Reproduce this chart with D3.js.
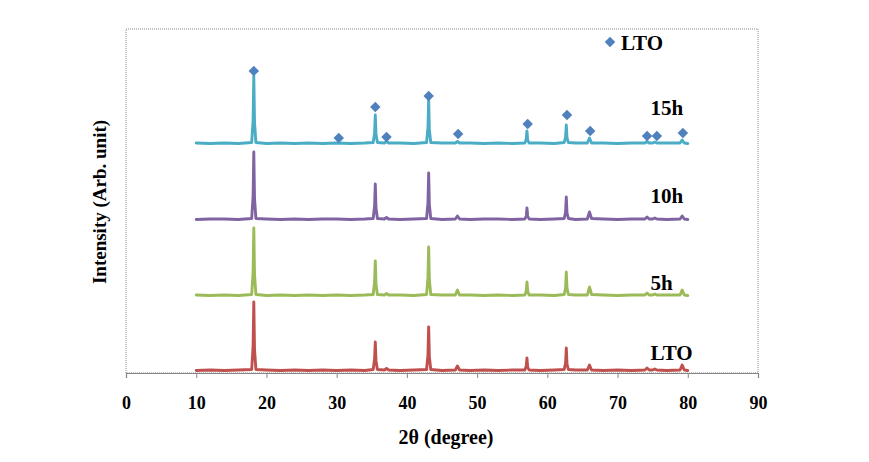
<!DOCTYPE html>
<html>
<head>
<meta charset="utf-8">
<script src="https://cdn.jsdelivr.net/npm/d3@7"></script>
<style>
  html, body { margin: 0; padding: 0; background: #fff; }
  svg { display: block; }
  text { font-family: "Liberation Serif", "Times New Roman", serif; font-weight: bold; fill: #000; }
</style>
</head>
<body>
<svg id="chart" width="869" height="462"></svg>
<script>
// ---------------- DATA ----------------
const xTicks = [0, 10, 20, 30, 40, 50, 60, 70, 80, 90];
const seriesNames = ["LTO", "5h", "10h", "15h"];
const seriesLabels = ["LTO", "5h", "10h", "15h"];
const seriesOffsets = [2, 77, 153, 229];

// shared 2θ grid (degree)
const twoTheta = [10, 12, 14, 16, 17.9, 18.1, 18.2, 18.3, 18.5, 20, 22, 24, 26, 28, 30, 32, 34,
  35.2, 35.4, 35.5, 35.6, 35.8, 36.8, 37.1, 37.4, 39, 41, 42.8, 43.0, 43.1, 43.2, 43.4, 45,
  46.9, 47.2, 47.5, 49, 51, 53, 55, 56.8, 57.0, 57.1, 57.2, 57.4, 59, 61,
  62.4, 62.6, 62.7, 62.8, 63.0, 64, 65.7, 66.0, 66.3, 68, 70, 72,
  73.9, 74.2, 74.5, 75.0, 75.3, 75.6, 77, 78.9, 79.2, 79.5, 80];

const intensityLTO = [0.5, 1, 0.5, 1, 1.5, 25, 69, 22, 1.5, 1, 0.5, 1, 0.5, 1, 0.5, 1, 0.5,
  1.5, 12, 29, 10, 1.5, 1, 2.5, 1, 0.5, 1, 1.5, 16, 44, 14, 1.5, 0.5,
  1, 5, 1, 0.5, 1, 0.5, 1, 1, 5, 13, 4, 1, 0.5, 1,
  1.5, 8, 23, 7, 1.5, 1, 1, 6, 1, 0.5, 1, 0.5,
  1, 3, 1, 1, 2, 1, 0.5, 1, 6, 1, 0.5];

const intensity5h = [1, 0.5, 1, 0.5, 1.5, 24, 68, 22, 1.5, 0.5, 1, 0.5, 1, 0.5, 1, 0.5, 1,
  1.5, 14, 35, 12, 1.5, 1, 2.5, 1, 1, 0.5, 1.5, 18, 49, 16, 1.5, 1,
  1, 6, 1, 1, 0.5, 1, 0.5, 1, 5, 14, 5, 1, 1, 0.5,
  1.5, 8, 24, 8, 1.5, 1, 1, 9, 1.5, 1, 0.5, 1,
  1, 3, 1, 1, 2, 1, 1, 1, 6, 1, 0.5];

const intensity10h = [0.5, 1, 1, 0.5, 1.5, 24, 68, 22, 1.5, 1, 0.5, 1, 0.5, 1, 1, 0.5, 1,
  1.5, 14, 36, 12, 1.5, 1, 2.5, 1, 0.5, 1, 1.5, 17, 47, 15, 1.5, 0.5,
  1, 4, 1, 0.5, 1, 1, 0.5, 1, 4, 12, 4, 1, 0.5, 1,
  1.5, 8, 23, 7, 1.5, 0.5, 1, 8, 1.5, 1, 0.5, 1,
  1, 3, 1, 1, 2, 1, 0.5, 1, 4, 1, 0.5];

const intensity15h = [1, 0.5, 1, 0.5, 1.5, 24, 68, 22, 1.5, 0.5, 1, 0.5, 1, 0.5, 1, 0.5, 1,
  1.5, 11, 29, 10, 1.5, 1, 2.5, 1, 1, 0.5, 1.5, 16, 44, 14, 1.5, 1,
  1, 2.5, 1, 1, 0.5, 1, 0.5, 1, 5, 13, 4, 1, 1, 0.5,
  1.5, 7, 19, 6, 1.5, 1, 1, 6, 1, 1, 0.5, 1,
  1, 2.5, 1, 1, 2, 1, 1, 1, 4, 1, 0.5];

const seriesValues = [intensityLTO, intensity5h, intensity10h, intensity15h];
const seriesColors = ["#C0504D", "#9BBB59", "#8064A2", "#4BACC6"];

// LTO reference markers (diamonds)
const markerTwoTheta = [18.2, 30.3, 35.5, 37.1, 43.1, 47.3, 57.2, 62.8, 66.1, 74.2, 75.6, 79.3];
const markerIntensity = [302, 235, 266, 236, 277, 239, 249, 258, 242, 237, 237, 240];

// ---------------- CHART ----------------
const svg = d3.select("#chart");
const plot = { left: 126, right: 758, top: 29, bottom: 373 };

const x = d3.scaleLinear().domain([0, 90]).range([plot.left, plot.right]);
const y = d3.scaleLinear().domain([0, 344]).range([plot.bottom, plot.top]);

// frame (dotted)
svg.append("rect")
  .attr("x", plot.left).attr("y", plot.top)
  .attr("width", plot.right - plot.left).attr("height", plot.bottom - plot.top)
  .attr("fill", "none").attr("stroke", "#8a8a8a").attr("stroke-width", 1)
  .attr("stroke-dasharray", "1,1");

// x axis
const xAxis = d3.axisBottom(x).tickValues(xTicks).tickSize(5).tickPadding(18).tickFormat(d3.format("d"));
const gx = svg.append("g").attr("transform", `translate(0,${plot.bottom})`).call(xAxis);
gx.select(".domain").attr("stroke", "#868686").attr("stroke-width", 1.2);
gx.selectAll(".tick line").attr("stroke", "#868686");
gx.selectAll(".tick text")
  .style("font-family", '"Liberation Serif", "Times New Roman", serif')
  .style("font-weight", "bold").style("font-size", "18px").attr("fill", "#000");

// lines
const line = d3.line()
  .x((d) => x(d[0]))
  .y((d) => y(d[1]));

seriesValues.forEach((vals, i) => {
  const pts = twoTheta.map((t, j) => [t, vals[j] + seriesOffsets[i]]);
  svg.append("path")
    .datum(pts)
    .attr("fill", "none")
    .attr("stroke", seriesColors[i])
    .attr("stroke-width", 2.9)
    .attr("stroke-linejoin", "round")
    .attr("stroke-linecap", "round")
    .attr("d", line);
});

// diamond markers
const diamond = d3.symbol().type(d3.symbolSquare).size(55);
svg.append("g").selectAll("path")
  .data(markerTwoTheta.map((t, i) => [t, markerIntensity[i]]))
  .join("path")
  .attr("d", diamond)
  .attr("fill", "#4F81BD")
  .attr("transform", (d) => `translate(${x(d[0])},${y(d[1])}) rotate(45)`);

// series labels
const labelY = [13, 83, 170, 258];
seriesLabels.forEach((lab, i) => {
  svg.append("text")
    .attr("x", x(74.7))
    .attr("y", y(labelY[i]))
    .style("font-size", "21px")
    .text(lab);
});

// legend
const lg = svg.append("g").attr("transform", "translate(610,42)");
lg.append("path").attr("d", diamond).attr("fill", "#4F81BD").attr("transform", "rotate(45)");
lg.append("text").attr("x", 11).attr("y", 8).style("font-size", "21px").text("LTO");

// axis titles
svg.append("text")
  .attr("x", 446).attr("y", 444)
  .attr("text-anchor", "middle")
  .style("font-size", "20px")
  .text("2θ (degree)");

svg.append("text")
  .attr("transform", "translate(106,202) rotate(-90)")
  .attr("text-anchor", "middle")
  .style("font-size", "19px")
  .text("Intensity (Arb. unit)");
</script>
</body>
</html>
